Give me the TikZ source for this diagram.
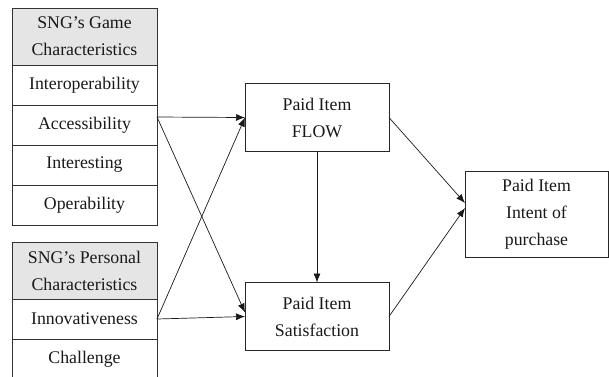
\documentclass[tikz,border=0pt]{standalone}
\usepackage{fontspec}
\setmainfont{Liberation Serif}
\usetikzlibrary{positioning, arrows.meta}

\begin{document}
\begin{tikzpicture}[x=1pt, y=-1pt, line width=0.8pt, font=\fontsize{17.8}{27}\selectfont,
    cell/.style={draw=black!80, text=black!90, minimum width=145pt, minimum height=40pt, inner sep=0pt, outer sep=0pt, align=center},
    header/.style={cell, fill=gray!20, minimum height=57pt},
    box/.style={draw=black!85, text=black!90, minimum width=144pt, minimum height=68pt, inner sep=0pt, outer sep=0pt, align=center},
    arr/.style={draw=black!90, line width=0.7pt, -{Latex[length=9pt, width=7pt]}}]
    \useasboundingbox (0, 0) rectangle (609, 376);
    % 左侧：游戏特性
    \node [header, anchor=north west] (gamehead) at (12, 8) {SNG's Game\\Characteristics};
    \node [cell, below=0pt of gamehead] (interop) {Interoperability};
    \node [cell, below=0pt of interop] (access) {Accessibility};
    \node [cell, below=0pt of access] (interest) {Interesting};
    \node [cell, below=0pt of interest] (operab) {Operability};
    % 左侧：个人特性
    \node [header, anchor=north west] (personhead) at (12, 242) {SNG's Personal\\Characteristics};
    \node [cell, below=0pt of personhead] (innov) {Innovativeness};
    \node [cell, below=0pt of innov] (challenge) {Challenge};
    % 中间和右侧的框
    \node [box] (flow) at (317, 117.5) {Paid Item\\FLOW};
    \node [box] (satis) at (317, 316.5) {Paid Item\\Satisfaction};
    \node [box, minimum width=143pt, minimum height=86pt] (intent) at (536.5, 214) {Paid Item\\Intent of\\purchase};
    % 箭头
    \draw [arr] ([yshift=8pt]access.east) -- (flow.west);
    \draw [arr] ([yshift=8pt]access.east) -- ([yshift=4pt]satis.west);
    \draw [arr] (innov.east) -- (flow.west);
    \draw [arr] (innov.east) -- (satis.west);
    \draw [arr] (flow.south) -- (satis.north);
    \draw [arr] (flow.east) -- ([yshift=11pt]intent.west);
    \draw [arr] (satis.east) -- ([yshift=6pt]intent.west);
\end{tikzpicture}
\end{document}
